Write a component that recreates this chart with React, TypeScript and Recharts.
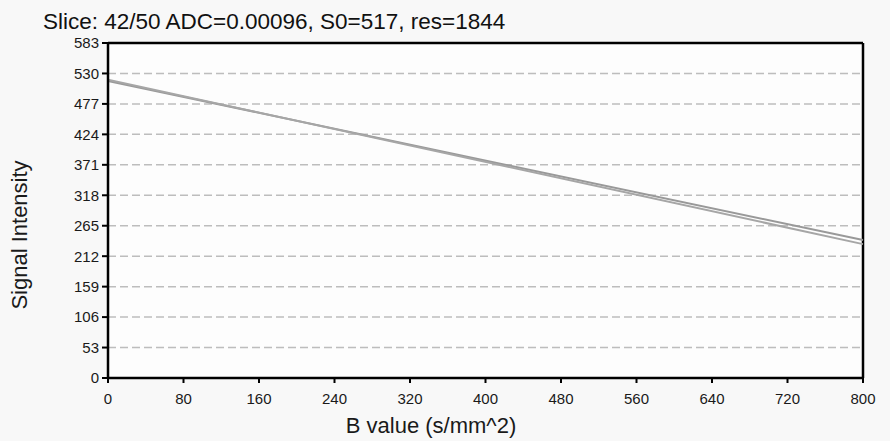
import React from 'react';
import { LineChart, Line, XAxis, YAxis, CartesianGrid, ReferenceLine } from 'recharts';

const bValues = [0, 800];
const measured = [517, 240];
const fitted = [519, 233];
const xTicks = [0, 80, 160, 240, 320, 400, 480, 560, 640, 720, 800];
const yTicks = [0, 53, 106, 159, 212, 265, 318, 371, 424, 477, 530, 583];

const data = bValues.map((b, i) => ({ b, measured: measured[i], fitted: fitted[i] }));

const font = 'Liberation Sans, Arial, sans-serif';
const tickStyle = { fill: '#1a1a1a', fontSize: 15, fontFamily: font };

export default function App() {
  return (
    <div style={{ position: 'fixed', left: 0, top: 0, width: 890, height: 441, background: '#f8f8f8', fontFamily: font, overflow: 'hidden' }}>
      <LineChart width={890} height={441} data={data} margin={{ top: 43, right: 27, left: 0, bottom: 0 }}>
        <CartesianGrid horizontal vertical={false} stroke="#bdbdbd" strokeWidth={1.5} strokeDasharray="8 4" fill="#fdfdfd" />
        <XAxis
          dataKey="b"
          type="number"
          domain={[0, 800]}
          ticks={xTicks}
          height={63}
          tick={tickStyle}
          tickSize={5}
          tickMargin={10}
          tickLine={{ stroke: '#000', strokeWidth: 2 }}
          axisLine={{ stroke: '#000', strokeWidth: 2.5 }}
        />
        <YAxis
          type="number"
          domain={[0, 583]}
          ticks={yTicks}
          width={108}
          tick={tickStyle}
          tickSize={6}
          tickMargin={3}
          tickLine={{ stroke: '#000', strokeWidth: 2 }}
          axisLine={{ stroke: '#000', strokeWidth: 2.5 }}
          interval={0}
        />
        <ReferenceLine y={583} stroke="#000" strokeWidth={2.5} />
        <ReferenceLine x={800} stroke="#000" strokeWidth={2.5} />
        <Line dataKey="measured" stroke="#999" strokeWidth={2} dot={false} isAnimationActive={false} />
        <Line dataKey="fitted" stroke="#a6a6a6" strokeWidth={2} dot={false} isAnimationActive={false} />
      </LineChart>
      <div style={{ position: 'absolute', left: 43, top: 9, fontSize: 22.5, lineHeight: '26px', color: '#111', whiteSpace: 'nowrap' }}>
        Slice: 42/50 ADC=0.00096, S0=517, res=1844
      </div>
      <div style={{ position: 'absolute', left: 431, top: 413, transform: 'translateX(-50%)', fontSize: 22, lineHeight: '26px', color: '#1a1a1a', whiteSpace: 'nowrap' }}>
        B value (s/mm^2)
      </div>
      <div style={{ position: 'absolute', left: 20, top: 235, transform: 'translate(-50%, -50%) rotate(-90deg)', fontSize: 22, lineHeight: '26px', color: '#1a1a1a', whiteSpace: 'nowrap' }}>
        Signal Intensity
      </div>
    </div>
  );
}
